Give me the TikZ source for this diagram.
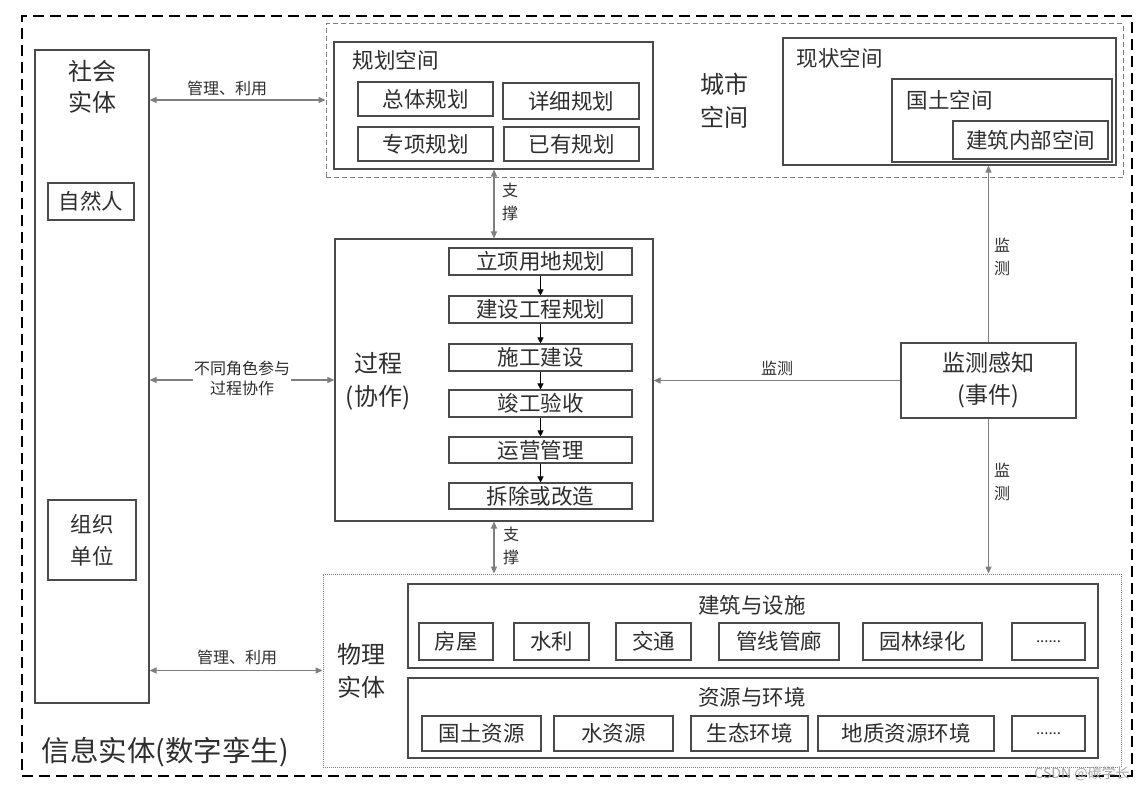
\documentclass[tikz,border=0pt]{standalone}
\usepackage{fontspec}
\setmainfont{Noto Sans CJK SC}
\usetikzlibrary{arrows.meta,fit}
\definecolor{boxc}{HTML}{4A4A4A}
\definecolor{txtc}{HTML}{2E2E2E}
\definecolor{arrc}{HTML}{7F7F7F}
\tikzset{
  box/.style={draw=boxc, line width=1.1pt, inner sep=0pt, text=txtc, align=center},
  big/.style={font=\fontsize{23}{31}\selectfont, text=txtc, align=center},
  mid/.style={font=\fontsize{21.5}{24}\selectfont, text=txtc},
  small/.style={font=\fontsize{16}{20}\selectfont, text=txtc, align=center},
  vsmall/.style={font=\fontsize{16}{23}\selectfont, text=txtc, align=center},
  garrow/.style={draw=arrc, line width=1.1pt, {Triangle[length=7pt,width=6pt]}-{Triangle[length=7pt,width=6pt]}},
  garrowone/.style={draw=arrc, line width=1.1pt, -{Triangle[length=7pt,width=6pt]}},
  barrow/.style={draw=black, line width=1pt, -{Triangle[length=6pt,width=6pt]}},
}
\begin{document}
\begin{tikzpicture}[x=1pt,y=-1pt]
\useasboundingbox (0,0) rectangle (1146,791);
\fill[white] (0,0) rectangle (1146,791);
% outer border
\node[draw=black, line width=2.8pt, dash pattern=on 11pt off 6pt, inner sep=0pt, fit={(22,16)(1132,776)}] (outer) {};
\node[font=\fontsize{28.5}{30}\selectfont, text=txtc, anchor=west] (info) at (38,752) {信息实体(数字孪生)};
% social entity
\node[box, fit={(35,50)(149,703)}] (social) {};
\node[big, font=\fontsize{24}{31}\selectfont] (socialt) at (92,87) {社会\\实体};
\node[box, fit={(48,183)(134,220)}] (ziran) {};
\node[mid] at (ziran.center) {自然人};
\node[box, fit={(48,500)(136,580)}] (zuzhi) {};
\node[mid, align=center, font=\fontsize{21.5}{32}\selectfont] at (zuzhi.center) {组织\\单位};
% city space
\node[draw=arrc, line width=1pt, dash pattern=on 5pt off 3pt, inner sep=0pt, fit={(326,24)(1123,178)}] (city) {};
\node[big, font=\fontsize{24}{33}\selectfont] (cityt) at (724,101) {城市\\空间};
\node[box, fit={(334,42)(653,169)}] (plan) {};
\node[mid, anchor=west] at (349,60) {规划空间};
\node[box, fit={(358,82)(493,116)}] (p1) {};
\node[mid] at (p1.center) {总体规划};
\node[box, fit={(503,83)(639,119)}] (p2) {};
\node[mid] at (p2.center) {详细规划};
\node[box, fit={(358,127)(493,161)}] (p3) {};
\node[mid] at (p3.center) {专项规划};
\node[box, fit={(504,127)(639,161)}] (p4) {};
\node[mid] at (p4.center) {已有规划};
\node[box, fit={(783,38)(1116,165)}] (now) {};
\node[mid, anchor=west] at (793,58) {现状空间};
\node[box, fit={(892,79)(1112,162)}] (land) {};
\node[mid, anchor=west] at (903,100) {国土空间};
\node[box, fit={(953,121)(1108,159)}] (bldg) {};
\node[mid] at (bldg.center) {建筑内部空间};
% process
\node[box, fit={(335,239)(653,521)}] (process) {};
\node[big, font=\fontsize{24}{33}\selectfont] (proct) at (378,381) {过程\\(协作)};
\node[box, fit={(449,248)(632,275)}] (s1) {};
\node[mid] at (s1.center) {立项用地规划};
\node[box, fit={(449,296)(632,323)}] (s2) {};
\node[mid] at (s2.center) {建设工程规划};
\node[box, fit={(449,344)(632,371)}] (s3) {};
\node[mid] at (s3.center) {施工建设};
\node[box, fit={(449,390)(632,417)}] (s4) {};
\node[mid] at (s4.center) {竣工验收};
\node[box, fit={(449,437)(632,463)}] (s5) {};
\node[mid] at (s5.center) {运营管理};
\node[box, fit={(449,483)(632,509)}] (s6) {};
\node[mid] at (s6.center) {拆除或改造};
\draw[barrow] (s1.south) -- (s2.north);
\draw[barrow] (s2.south) -- (s3.north);
\draw[barrow] (s3.south) -- (s4.north);
\draw[barrow] (s4.south) -- (s5.north);
\draw[barrow] (s5.south) -- (s6.north);
% monitoring
\node[box, fit={(901,343)(1076,418)}] (monitor) {};
\node[big, font=\fontsize{23}{32}\selectfont] at (monitor.center) {监测感知\\(事件)};
% physical entity
\node[draw=arrc, line width=0.9pt, dash pattern=on 1pt off 1pt, inner sep=0pt, fit={(323,574)(1121,767)}] (phys) {};
\node[big, font=\fontsize{24}{33}\selectfont] (physt) at (361,671) {物理\\实体};
\node[box, fit={(408,584)(1098,668)}] (bf) {};
\node[mid] at (752,605) {建筑与设施};
\node[box, fit={(419,623)(493,660)}] (b1) {};
\node[mid] at (b1.center) {房屋};
\node[box, fit={(514,623)(589,660)}] (b2) {};
\node[mid] at (b2.center) {水利};
\node[box, fit={(616,623)(691,660)}] (b3) {};
\node[mid] at (b3.center) {交通};
\node[box, fit={(719,623)(839,660)}] (b4) {};
\node[mid] at (b4.center) {管线管廊};
\node[box, fit={(863,623)(982,660)}] (b5) {};
\node[mid] at (b5.center) {园林绿化};
\node[box, fit={(1012,623)(1085,660)}] (b6) {};
\node[font=\fontsize{15}{16}\selectfont, text=txtc] at (b6.center) {......};
\node[box, fit={(408,678)(1098,758)}] (re) {};
\node[mid] at (752,697) {资源与环境};
\node[box, fit={(422,716)(541,751)}] (r1) {};
\node[mid] at (r1.center) {国土资源};
\node[box, fit={(554,716)(673,751)}] (r2) {};
\node[mid] at (r2.center) {水资源};
\node[box, fit={(691,716)(808,751)}] (r3) {};
\node[mid] at (r3.center) {生态环境};
\node[box, fit={(818,716)(994,751)}] (r4) {};
\node[mid] at (r4.center) {地质资源环境};
\node[box, fit={(1012,716)(1085,751)}] (r5) {};
\node[font=\fontsize{15}{16}\selectfont, text=txtc] at (r5.center) {......};
% connectors
\coordinate (sx) at (494,0);
\coordinate (ty) at (0,100);
\draw[garrow] (social.east |- ty) -- (city.west |- ty);
\node[small] at (227,88) {管理、利用};
\draw[garrow] (plan.south -| sx) -- (process.north -| sx);
\node[vsmall] at (510,202) {支\\撑};
\draw[garrow] (social.east |- process.west) -- (process.west);
\node[small, fill=white, inner sep=1pt] at (242,378) {不同角色参与\\过程协作};
\draw[garrowone] (monitor.west) -- (process.east |- monitor.west);
\node[small] at (777,368) {监测};
\draw[garrowone] (monitor.north) -- (now.south -| monitor.north);
\node[vsmall] at (1002,257) {监\\测};
\draw[garrowone] (monitor.south) -- (phys.north -| monitor.south);
\node[vsmall] at (1002,482) {监\\测};
\draw[garrow] (process.south -| sx) -- (phys.north -| sx);
\node[vsmall] at (511,546) {支\\撑};
\draw[garrow] (social.east |- phys.west) -- (phys.west);
\node[small] at (237,657) {管理、利用};
% watermark
\node[font=\fontsize{14}{14}\selectfont, text=arrc!70] at (1082,774) {CSDN @碳学长};
\end{tikzpicture}
\end{document}
